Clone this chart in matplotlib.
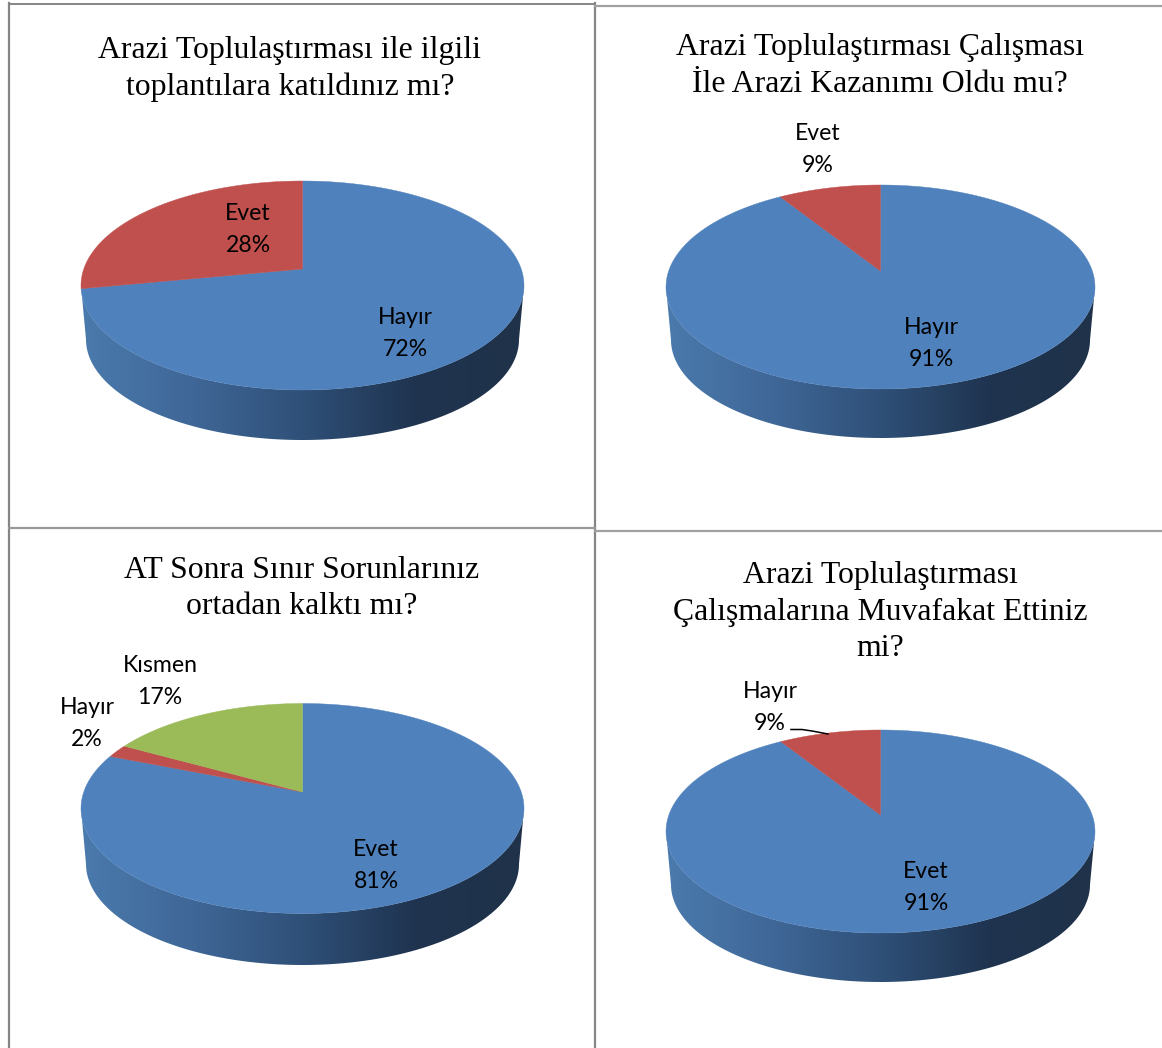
import numpy as np
import matplotlib
matplotlib.use("Agg")
import matplotlib.pyplot as plt
from matplotlib.colors import LinearSegmentedColormap
from matplotlib.patches import Polygon

# values (clockwise from 12 o'clock)
labels_1 = ["Hayır", "Evet"]
values_1 = [72, 28]
labels_2 = ["Hayır", "Evet"]
values_2 = [91, 9]
labels_3 = ["Evet", "Hayır", "Kısmen"]
values_3 = [81, 2, 17]
labels_4 = ["Evet", "Hayır"]
values_4 = [91, 9]

title_1 = ["Arazi Toplulaştırması ile ilgili", "toplantılara katıldınız mı?"]
title_2 = ["Arazi Toplulaştırması Çalışması", "İle Arazi Kazanımı Oldu mu?"]
title_3 = ["AT Sonra Sınır Sorunlarınız", "ortadan kalktı mı?"]
title_4 = ["Arazi Toplulaştırması", "Çalışmalarına Muvafakat Ettiniz", "mi?"]

slice_colors = ["#4f81bd", "#c0504d", "#9bbb59"]
side_cmap = LinearSegmentedColormap.from_list(
    "side", ["#4b7aad", "#3f6797", "#2f5078", "#1f3450", "#1f3249"])

fig = plt.figure(figsize=(11.62, 10.48), dpi=100)
ax = fig.add_axes([0, 0, 1, 1])


def rim(t, g):
    # tilted disc: points on the circle are pushed so the centre lands on the apex
    a = g["a"]
    u, v = np.sin(t), np.cos(t)
    d = 1 + a * v
    return g["cx"] + g["rx"] * u * np.sqrt(1 - a * a) / d, g["cy"] - g["ry"] * (v + a) / d


def draw_pie(values, g):
    # side wall: top edge runs along the front, lower edge comes back
    ry2 = g["ry"] - 4
    cy2 = g["bottom"] - ry2
    t = np.linspace(0, np.pi, 200)
    top_x = g["cx"] + g["rx"] * np.cos(t)
    top_y = g["cy"] + g["ry"] * np.sin(t)
    low_x = g["cx"] + (g["rx"] - 5) * np.cos(t[::-1])
    low_y = cy2 + ry2 * np.sin(t[::-1])
    side = Polygon(np.column_stack([np.r_[top_x, low_x], np.r_[top_y, low_y]]),
                   closed=True, facecolor="none", edgecolor="none", transform=ax.transData)
    ax.add_patch(side)
    im = ax.imshow(np.linspace(0, 1, 256)[None, :], cmap=side_cmap, aspect="auto",
                   extent=[g["cx"] - g["rx"], g["cx"] + g["rx"], g["bottom"], g["cy"]], zorder=2)
    im.set_clip_path(side)

    # top face
    edges = 2 * np.pi * np.r_[0, np.cumsum(values)] / sum(values)
    apex = (g["cx"], g["cy"] - g["ry"] * g["a"])
    for i in range(len(values)):
        tt = np.linspace(edges[i], edges[i + 1], 200)
        x, y = rim(tt, g)
        pts = np.column_stack([np.r_[apex[0], x], np.r_[apex[1], y]])
        ax.add_patch(Polygon(pts, closed=True, facecolor=slice_colors[i],
                             edgecolor=slice_colors[i], linewidth=0.3, zorder=3))


def draw_title(lines, x, y, step):
    for i, line in enumerate(lines):
        ax.text(x, y + i * step, line, family="Liberation Serif", fontsize=22.9,
                ha="center", va="center", color="black", zorder=5)


def draw_labels(labels, values, spots):
    for lab, val, (x, y) in zip(labels, values, spots):
        ax.text(x, y, lab, family="Lato", fontsize=16.6, ha="center", va="center",
                color="black", zorder=5)
        ax.text(x, y + 33, f"{val}%", family="Lato", fontsize=16.6, ha="center", va="center",
                color="black", zorder=5)


# pie layout in pixels
geo_1 = {"cx": 302.5, "cy": 285.5, "rx": 221.5, "ry": 104.5, "a": 0.158, "bottom": 440}
geo_2 = {"cx": 880.5, "cy": 287, "rx": 214.5, "ry": 102, "a": 0.157, "bottom": 438}
geo_3 = {"cx": 302.5, "cy": 808.5, "rx": 221.5, "ry": 105, "a": 0.157, "bottom": 965}
geo_4 = {"cx": 880.5, "cy": 831.5, "rx": 214.5, "ry": 101.5, "a": 0.163, "bottom": 982}

draw_pie(values_1, geo_1)
draw_pie(values_2, geo_2)
draw_pie(values_3, geo_3)
draw_pie(values_4, geo_4)

draw_title(title_1, 290, 50.5, 37)
draw_title(title_2, 880, 47.5, 37)
draw_title(title_3, 302, 570.5, 36)
draw_title(title_4, 880, 575, 37)

draw_labels(labels_1, values_1, [(405, 317), (248, 213)])
draw_labels(labels_2, values_2, [(931, 327), (818, 133)])
draw_labels(labels_3, values_3, [(376, 849), (87, 707), (160, 665)])
draw_labels(labels_4, values_4, [(926, 871), (770, 691)])

# leader line of the 9% label
ax.plot([791, 802, 812, 828], [729.5, 729.5, 731, 734], color="black", lw=1.1, zorder=6)

# table rules
grey = "#858585"
ax.plot([9, 9], [3, 1048], color=grey, lw=1.6, zorder=1)
ax.plot([595, 595], [3, 1048], color=grey, lw=1.6, zorder=1)
ax.plot([9, 595], [3.5, 3.5], color=grey, lw=1.4, zorder=1)
ax.plot([595, 1162], [6, 6], color="#a0a0a0", lw=1.6, zorder=1)
ax.plot([9, 595], [527.5, 527.5], color="#999999", lw=1.6, zorder=1)
ax.plot([595, 1162], [531, 531], color="#a0a0a0", lw=1.6, zorder=1)

ax.set_xlim(0, 1162)
ax.set_ylim(1048, 0)
ax.axis("off")

fig.savefig("out.png", dpi=100, facecolor="white")
